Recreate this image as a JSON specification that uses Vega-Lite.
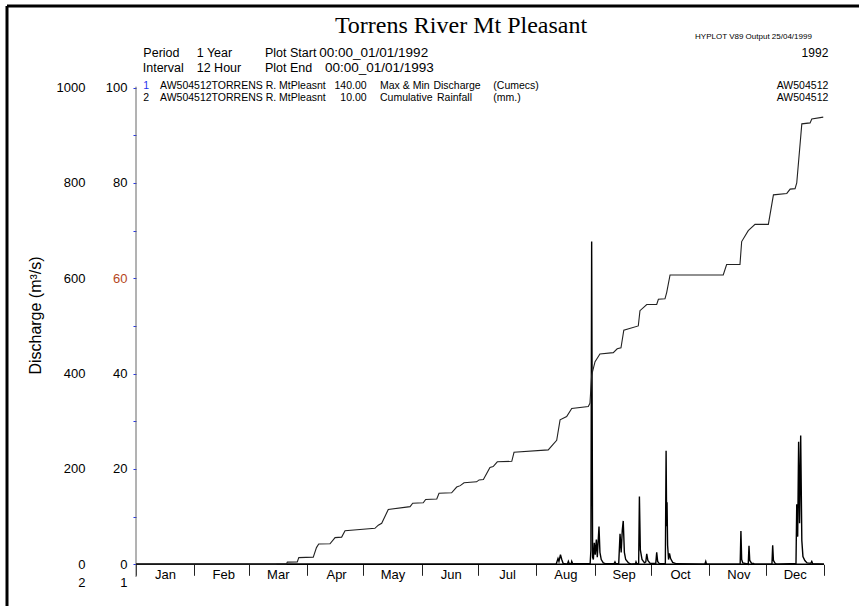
{
  "$schema": "https://vega.github.io/schema/vega-lite/v6.json",
  "width": 852,
  "height": 600,
  "autosize": {"type": "none"},
  "padding": {"left": 7, "top": 6, "right": 0, "bottom": 0},
  "background": "white",
  "config": {
    "view": {"stroke": null},
    "font": "Liberation Sans",
    "axis": {"labelFont": "Liberation Sans", "titleFont": "Liberation Sans", "grid": false},
    "text": {"font": "Liberation Sans", "color": "black"}
  },
  "datasets": {
    "discharge": [
      {"day": 0, "q": 0}, {"day": 222, "q": 0}, {"day": 223.5, "q": 0}, {"day": 224.5, "q": 1.2}, {"day": 225, "q": 0.6},
      {"day": 225.8, "q": 2.0}, {"day": 226.5, "q": 1.0}, {"day": 227.2, "q": 0.2}, {"day": 229.5, "q": 0},
      {"day": 230, "q": 0.6}, {"day": 230.5, "q": 0.1}, {"day": 231.5, "q": 0.1}, {"day": 231.8, "q": 0.6},
      {"day": 232.3, "q": 0.1}, {"day": 241.6, "q": 0.2}, {"day": 242.0, "q": 3}, {"day": 242.4, "q": 67.7},
      {"day": 242.9, "q": 1.5}, {"day": 243.3, "q": 1.0}, {"day": 243.8, "q": 4.5}, {"day": 244.3, "q": 2.0},
      {"day": 244.9, "q": 5.2}, {"day": 245.4, "q": 1.5}, {"day": 246.3, "q": 7.9}, {"day": 246.8, "q": 2.5},
      {"day": 247.5, "q": 1.0}, {"day": 248.6, "q": 0.3}, {"day": 250, "q": 0.1}, {"day": 254.3, "q": 0.1},
      {"day": 254.8, "q": 0.5}, {"day": 255.3, "q": 0.1}, {"day": 256.8, "q": 0.2}, {"day": 257.5, "q": 6.4},
      {"day": 258.1, "q": 2.5}, {"day": 258.7, "q": 7.2}, {"day": 259.2, "q": 9.1}, {"day": 259.8, "q": 2.5},
      {"day": 260.5, "q": 1.0}, {"day": 262, "q": 0.3}, {"day": 263.5, "q": 0}, {"day": 265.7, "q": 0.1},
      {"day": 266, "q": 0.5}, {"day": 266.4, "q": 0.1}, {"day": 267.4, "q": 0.2}, {"day": 267.8, "q": 14.2},
      {"day": 268.3, "q": 3.0}, {"day": 269.2, "q": 1.0}, {"day": 270.5, "q": 0.3}, {"day": 271.2, "q": 0.5},
      {"day": 271.7, "q": 2.2}, {"day": 272.3, "q": 0.8}, {"day": 273.5, "q": 0.2}, {"day": 276.5, "q": 0.2},
      {"day": 277, "q": 2.5}, {"day": 277.5, "q": 0.6}, {"day": 278.5, "q": 0.1}, {"day": 281.6, "q": 0.1},
      {"day": 282, "q": 23.8}, {"day": 282.3, "q": 8}, {"day": 282.5, "q": 13.0}, {"day": 282.8, "q": 4},
      {"day": 283.3, "q": 1.0}, {"day": 283.8, "q": 2.3}, {"day": 284.4, "q": 1.2}, {"day": 285.5, "q": 0.4},
      {"day": 287.5, "q": 0.1}, {"day": 302.6, "q": 0}, {"day": 303.1, "q": 0.6}, {"day": 303.5, "q": 0},
      {"day": 321.4, "q": 0}, {"day": 321.8, "q": 7.0}, {"day": 322.2, "q": 1.0}, {"day": 322.8, "q": 0.3},
      {"day": 325.7, "q": 0}, {"day": 326.1, "q": 3.9}, {"day": 326.5, "q": 0.8}, {"day": 327.5, "q": 0.2},
      {"day": 328.5, "q": 0.2}, {"day": 329, "q": 0}, {"day": 338.3, "q": 0}, {"day": 338.7, "q": 4.0},
      {"day": 339.1, "q": 0.8}, {"day": 340, "q": 0.2}, {"day": 341, "q": 0}, {"day": 351.1, "q": 0.2},
      {"day": 351.5, "q": 12.6}, {"day": 352, "q": 5.8}, {"day": 352.5, "q": 25.7}, {"day": 353, "q": 8.6},
      {"day": 353.6, "q": 27.0}, {"day": 354.2, "q": 5}, {"day": 354.8, "q": 1.6}, {"day": 355.8, "q": 0.8},
      {"day": 357, "q": 0.3}, {"day": 359, "q": 0.2}, {"day": 359.5, "q": 0.6}, {"day": 360, "q": 0.1},
      {"day": 366, "q": 0}
    ],
    "rain": [
      {"day": 0, "mm": 0}, {"day": 74.5, "mm": 0}, {"day": 75, "mm": 0.5}, {"day": 80, "mm": 0.8}, {"day": 80.5, "mm": 4.5},
      {"day": 85.8, "mm": 5}, {"day": 86.6, "mm": 14}, {"day": 94.3, "mm": 15}, {"day": 96, "mm": 35},
      {"day": 97.2, "mm": 42.6}, {"day": 103.2, "mm": 43}, {"day": 105.9, "mm": 56}, {"day": 109.4, "mm": 57},
      {"day": 111.2, "mm": 70.5}, {"day": 127.1, "mm": 75.5}, {"day": 128.9, "mm": 82}, {"day": 130.7, "mm": 86},
      {"day": 134.2, "mm": 115}, {"day": 145.8, "mm": 121}, {"day": 147.2, "mm": 128}, {"day": 152.8, "mm": 129},
      {"day": 154.1, "mm": 136}, {"day": 160.0, "mm": 137}, {"day": 161.2, "mm": 149}, {"day": 167.9, "mm": 150},
      {"day": 170.6, "mm": 162}, {"day": 172.5, "mm": 165}, {"day": 174.5, "mm": 171}, {"day": 181.2, "mm": 173},
      {"day": 182.5, "mm": 177}, {"day": 184.8, "mm": 178}, {"day": 188.3, "mm": 203}, {"day": 190, "mm": 205},
      {"day": 192.2, "mm": 215}, {"day": 199.9, "mm": 216}, {"day": 201.1, "mm": 235}, {"day": 219.3, "mm": 240},
      {"day": 222.0, "mm": 252}, {"day": 223.8, "mm": 260}, {"day": 225.6, "mm": 303}, {"day": 229.1, "mm": 310},
      {"day": 231.8, "mm": 327}, {"day": 240.6, "mm": 331}, {"day": 241.5, "mm": 338}, {"day": 242.4, "mm": 397},
      {"day": 244.2, "mm": 425}, {"day": 246.8, "mm": 441}, {"day": 253.9, "mm": 444}, {"day": 256, "mm": 452},
      {"day": 258, "mm": 454}, {"day": 259.5, "mm": 491}, {"day": 267.2, "mm": 500}, {"day": 268.1, "mm": 532},
      {"day": 271.7, "mm": 545}, {"day": 277.0, "mm": 545}, {"day": 277.9, "mm": 556}, {"day": 281.4, "mm": 557},
      {"day": 282.3, "mm": 570}, {"day": 284.1, "mm": 607}, {"day": 312.4, "mm": 607}, {"day": 314.2, "mm": 629},
      {"day": 321.3, "mm": 629}, {"day": 322.2, "mm": 677}, {"day": 325.7, "mm": 700}, {"day": 329.3, "mm": 713},
      {"day": 336.4, "mm": 713}, {"day": 339.1, "mm": 775}, {"day": 346.2, "mm": 778}, {"day": 348, "mm": 787},
      {"day": 350.6, "mm": 788}, {"day": 351.5, "mm": 800}, {"day": 354.2, "mm": 924}, {"day": 358.6, "mm": 926},
      {"day": 359.5, "mm": 934}, {"day": 365.6, "mm": 938}
    ],
    "notes": [
      {"kind": "title", "day": 172.9, "level": 111.39, "text": "Torrens River Mt Pleasant"},
      {"kind": "head", "day": 3.9, "level": 107.26, "text": "Period"},
      {"kind": "head", "day": 32.3, "level": 107.26, "text": "1 Year"},
      {"kind": "head", "day": 68.6, "level": 107.26, "text": "Plot Start"},
      {"kind": "head", "day": 3.6, "level": 104.11, "text": "Interval"},
      {"kind": "head", "day": 32.3, "level": 104.11, "text": "12 Hour"},
      {"kind": "head", "day": 68.6, "level": 104.11, "text": "Plot End"},
      {"kind": "date", "day": 97.5, "level": 107.26, "text": "00:00_01/01/1992"},
      {"kind": "date", "day": 100.5, "level": 104.11, "text": "00:00_01/01/1993"},
      {"kind": "year", "day": 368.3, "level": 107.26, "text": "1992"},
      {"kind": "hyplot", "day": 297.4, "level": 110.6, "text": "HYPLOT V89  Output 25/04/1999"},
      {"kind": "one", "day": 3.9, "level": 100.34, "text": "1"},
      {"kind": "leg", "day": 3.9, "level": 97.76, "text": "2"},
      {"kind": "leg", "day": 12.77, "level": 100.34, "text": "AW504512TORRENS R. MtPleasnt"},
      {"kind": "leg", "day": 12.77, "level": 97.76, "text": "AW504512TORRENS R. MtPleasnt"},
      {"kind": "legnum", "day": 122.7, "level": 100.34, "text": "140.00"},
      {"kind": "legnum", "day": 122.7, "level": 97.76, "text": "10.00"},
      {"kind": "leg", "day": 129.8, "level": 100.34, "text": "Max & Min"},
      {"kind": "leg", "day": 129.8, "level": 97.76, "text": "Cumulative"},
      {"kind": "leg", "day": 158.2, "level": 100.34, "text": "Discharge"},
      {"kind": "leg", "day": 160.1, "level": 97.76, "text": "Rainfall"},
      {"kind": "leg", "day": 190.1, "level": 100.34, "text": "(Cumecs)"},
      {"kind": "leg", "day": 190.1, "level": 97.76, "text": "(mm.)"},
      {"kind": "legid", "day": 368.3, "level": 100.34, "text": "AW504512"},
      {"kind": "legid", "day": 368.3, "level": 97.76, "text": "AW504512"}
    ]
  },
  "layer": [
    {
      "layer": [
        {
          "data": {"name": "discharge"},
          "mark": {"type": "line", "color": "black", "strokeWidth": 1.4, "clip": false},
          "encoding": {
            "x": {
              "field": "day", "type": "quantitative",
              "scale": {"domain": [-68.63, 384.62], "nice": false, "zero": false},
              "axis": {
                "orient": "bottom", "offset": -41.7,
                "values": [0, 31, 60, 91, 121, 152, 182, 213, 244, 274, 305, 335, 366],
                "domain": false, "grid": false,
                "tickSize": 11, "tickColor": "#222222", "tickWidth": 1,
                "labelPadding": -7, "labelOffset": 29, "labelFontSize": 13, "labelColor": "black",
                "labelFlush": false, "labelOverlap": false, "labelBound": false,
                "labelExpr": "datum.value >= 366 ? '' : ['Jan','Feb','Mar','Apr','May','Jun','Jul','Aug','Sep','Oct','Nov','Dec'][indexof([0,31,60,91,121,152,182,213,244,274,305,335], datum.value)]",
                "title": null
              }
            },
            "y": {
              "field": "q", "type": "quantitative",
              "scale": {"domain": [-8.75, 117.12], "nice": false, "zero": false},
              "axis": {
                "orient": "left", "offset": -129,
                "values": [-3.78, 0, 10, 20, 30, 40, 50, 60, 70, 80, 90, 100],
                "domain": false, "grid": false,
                "tickSize": 3, "tickWidth": 1,
                "tickColor": "#2233ee",
                "tickOpacity": {"condition": {"test": "datum.value < 0", "value": 0}, "value": 1},
                "labelPadding": 6, "labelFontSize": 13,
                "labelColor": {"condition": {"test": "datum.value === 60", "value": "#b5461c"}, "value": "black"},
                "format": "d",
                "labelFlush": false, "labelOverlap": false, "labelBound": false,
                "labelExpr": "datum.value < 0 ? '1' : (datum.value % 20 === 0 ? datum.label : '')",
                "title": null
              }
            }
          }
        },
        {
          "data": {"values": [{}]},
          "mark": {"type": "rule", "color": "black", "strokeWidth": 3},
          "encoding": {
            "x": {"datum": -68.63, "type": "quantitative", "scale": {"domain": [-68.63, 384.62], "nice": false, "zero": false}},
            "y": {"datum": -8.75, "type": "quantitative", "scale": {"domain": [-8.75, 117.12], "nice": false, "zero": false}},
            "y2": {"datum": 117.12}
          }
        },
        {
          "data": {"values": [{}]},
          "mark": {"type": "rule", "color": "black", "strokeWidth": 3},
          "encoding": {
            "x": {"datum": -68.63, "type": "quantitative", "scale": {"domain": [-68.63, 384.62], "nice": false, "zero": false}},
            "x2": {"datum": 384.62},
            "y": {"datum": 117.12, "type": "quantitative", "scale": {"domain": [-8.75, 117.12], "nice": false, "zero": false}}
          }
        },
        {
          "data": {"values": [{}]},
          "mark": {"type": "rule", "color": "#666666", "strokeWidth": 1},
          "encoding": {
            "x": {"datum": 0, "type": "quantitative", "scale": {"domain": [-68.63, 384.62], "nice": false, "zero": false}},
            "y": {"datum": 100.19, "type": "quantitative", "scale": {"domain": [-8.75, 117.12], "nice": false, "zero": false}},
            "y2": {"datum": -2.66}
          }
        },
        {
          "data": {"values": [{}]},
          "mark": {"type": "rule", "color": "black", "strokeWidth": 1.5},
          "encoding": {
            "x": {"datum": 0, "type": "quantitative", "scale": {"domain": [-68.63, 384.62], "nice": false, "zero": false}},
            "x2": {"datum": 366},
            "y": {"datum": 0, "type": "quantitative", "scale": {"domain": [-8.75, 117.12], "nice": false, "zero": false}}
          }
        },
        {
          "data": {"name": "notes"},
          "transform": [{"filter": "datum.kind === 'title'"}],
          "mark": {"type": "text", "font": "Liberation Serif", "fontSize": 24, "align": "center", "baseline": "alphabetic", "color": "black"},
          "encoding": {
            "x": {"field": "day", "type": "quantitative", "scale": {"domain": [-68.63, 384.62], "nice": false, "zero": false}},
            "y": {"field": "level", "type": "quantitative", "scale": {"domain": [-8.75, 117.12], "nice": false, "zero": false}},
            "text": {"field": "text"}
          }
        },
        {
          "data": {"name": "notes"},
          "transform": [{"filter": "datum.kind === 'head'"}],
          "mark": {"type": "text", "fontSize": 12.5, "align": "left", "baseline": "middle", "color": "black"},
          "encoding": {
            "x": {"field": "day", "type": "quantitative", "scale": {"domain": [-68.63, 384.62], "nice": false, "zero": false}},
            "y": {"field": "level", "type": "quantitative", "scale": {"domain": [-8.75, 117.12], "nice": false, "zero": false}},
            "text": {"field": "text"}
          }
        },
        {
          "data": {"name": "notes"},
          "transform": [{"filter": "datum.kind === 'date'"}],
          "mark": {"type": "text", "fontSize": 13.5, "align": "left", "baseline": "middle", "color": "black"},
          "encoding": {
            "x": {"field": "day", "type": "quantitative", "scale": {"domain": [-68.63, 384.62], "nice": false, "zero": false}},
            "y": {"field": "level", "type": "quantitative", "scale": {"domain": [-8.75, 117.12], "nice": false, "zero": false}},
            "text": {"field": "text"}
          }
        },
        {
          "data": {"name": "notes"},
          "transform": [{"filter": "datum.kind === 'year'"}],
          "mark": {"type": "text", "fontSize": 12, "align": "right", "baseline": "middle", "color": "black"},
          "encoding": {
            "x": {"field": "day", "type": "quantitative", "scale": {"domain": [-68.63, 384.62], "nice": false, "zero": false}},
            "y": {"field": "level", "type": "quantitative", "scale": {"domain": [-8.75, 117.12], "nice": false, "zero": false}},
            "text": {"field": "text"}
          }
        },
        {
          "data": {"name": "notes"},
          "transform": [{"filter": "datum.kind === 'hyplot'"}],
          "mark": {"type": "text", "fontSize": 8, "align": "left", "baseline": "middle", "color": "black"},
          "encoding": {
            "x": {"field": "day", "type": "quantitative", "scale": {"domain": [-68.63, 384.62], "nice": false, "zero": false}},
            "y": {"field": "level", "type": "quantitative", "scale": {"domain": [-8.75, 117.12], "nice": false, "zero": false}},
            "text": {"field": "text"}
          }
        },
        {
          "data": {"name": "notes"},
          "transform": [{"filter": "datum.kind === 'leg'"}],
          "mark": {"type": "text", "fontSize": 10.5, "align": "left", "baseline": "middle", "color": "black"},
          "encoding": {
            "x": {"field": "day", "type": "quantitative", "scale": {"domain": [-68.63, 384.62], "nice": false, "zero": false}},
            "y": {"field": "level", "type": "quantitative", "scale": {"domain": [-8.75, 117.12], "nice": false, "zero": false}},
            "text": {"field": "text"}
          }
        },
        {
          "data": {"name": "notes"},
          "transform": [{"filter": "datum.kind === 'one'"}],
          "mark": {"type": "text", "fontSize": 10.5, "align": "left", "baseline": "middle", "color": "#2233ee"},
          "encoding": {
            "x": {"field": "day", "type": "quantitative", "scale": {"domain": [-68.63, 384.62], "nice": false, "zero": false}},
            "y": {"field": "level", "type": "quantitative", "scale": {"domain": [-8.75, 117.12], "nice": false, "zero": false}},
            "text": {"field": "text"}
          }
        },
        {
          "data": {"name": "notes"},
          "transform": [{"filter": "datum.kind === 'legnum' || datum.kind === 'legid'"}],
          "mark": {"type": "text", "fontSize": 10.5, "align": "right", "baseline": "middle", "color": "black"},
          "encoding": {
            "x": {"field": "day", "type": "quantitative", "scale": {"domain": [-68.63, 384.62], "nice": false, "zero": false}},
            "y": {"field": "level", "type": "quantitative", "scale": {"domain": [-8.75, 117.12], "nice": false, "zero": false}},
            "text": {"field": "text"}
          }
        }
      ]
    },
    {
      "data": {"name": "rain"},
      "mark": {"type": "line", "color": "#222222", "strokeWidth": 1.1},
      "encoding": {
        "x": {"field": "day", "type": "quantitative", "scale": {"domain": [-68.63, 384.62], "nice": false, "zero": false}},
        "y": {
          "field": "mm", "type": "quantitative",
          "scale": {"domain": [-87.5, 1171.2], "nice": false, "zero": false},
          "axis": {
            "orient": "left", "offset": -81,
            "values": [-37.8, 0, 200, 400, 600, 800, 1000],
            "domain": false, "grid": false, "ticks": false, "tickSize": 0,
            "labelPadding": 3, "labelFontSize": 13, "labelColor": "black",
            "format": "d",
            "labelFlush": false, "labelOverlap": false, "labelBound": false,
            "labelExpr": "datum.value < 0 ? '2' : datum.label",
            "title": "Discharge (m³/s)",
            "titleFontSize": 16, "titleFontWeight": "normal", "titleColor": "black",
            "titleAngle": 270, "titleX": -53, "titleY": 309,
            "titleAlign": "center", "titleBaseline": "middle"
          }
        }
      }
    }
  ],
  "resolve": {"scale": {"y": "independent"}}
}
